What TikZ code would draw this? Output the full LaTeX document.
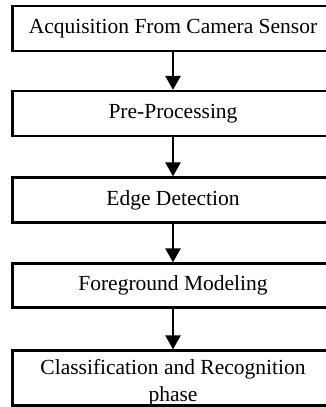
\documentclass[tikz,border=0pt]{standalone}
\usepackage{fontspec}
\setmainfont{Liberation Serif}
\usetikzlibrary{arrows.meta}
\begin{document}
\begin{tikzpicture}[x=1pt,y=-1pt,
  stagebox/.style={draw=black,line width=2.3pt,minimum width=321pt,inner sep=0pt,
    align=center,font=\fontsize{21.5}{26}\selectfont,fill=white},
  stagetext/.style={inner sep=0pt,align=center,font=\fontsize{21.5}{27}\selectfont},
  flowarrow/.style={line width=2.6pt,-{Triangle[length=14pt,width=15pt]}}]
\useasboundingbox (0,0) rectangle (326,407);
\fill[white] (0,0) rectangle (326,407);
\node[stagebox,minimum height=45pt] (a) at (173,28.5) {Acquisition From Camera Sensor};
\node[stagebox,minimum height=45pt] (b) at (173,113.5) {Pre-Processing};
\node[stagebox,minimum height=45pt] (c) at (173,200) {Edge Detection};
\node[stagebox,minimum height=44pt] (d) at (173,285.5) {Foreground Modeling};
\node[stagebox,minimum height=55pt] (e) at (173,378) {};
\node[stagetext] (etext) at (173,383) {Classification and Recognition\\phase};
\draw[flowarrow] (a.south) -- (b.north);
\draw[flowarrow] (b.south) -- (c.north);
\draw[flowarrow] (c.south) -- (d.north);
\draw[flowarrow] (d.south) -- (e.north);
\end{tikzpicture}
\end{document}
